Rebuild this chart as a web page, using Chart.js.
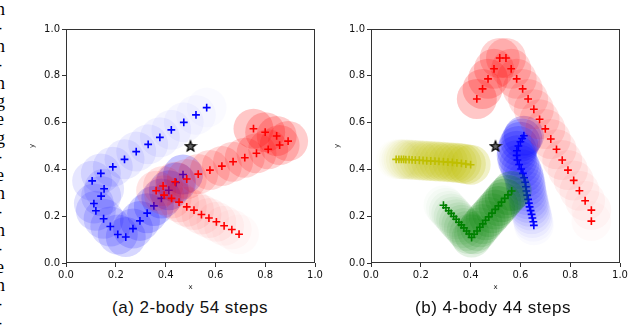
<!doctype html>
<html lang="en">
<head>
  <meta charset="utf-8">
  <title>2-body / 4-body steps</title>
  <script src="https://cdn.jsdelivr.net/npm/chart.js@4.4.1/dist/chart.umd.min.js"></script>
  <style>
    html, body { margin: 0; padding: 0; background: #fff; }
    #page { position: relative; width: 640px; height: 335px; overflow: hidden; }
    canvas { position: absolute; top: 0; }
    #c1 { left: 0; }
    #c2 { left: 305px; }
    .caption { position: absolute; top: 298px; width: 240px; text-align: center;
      font-family: "Liberation Sans", Arial, sans-serif; font-size: 17px; letter-spacing: 0.5px;
      line-height: 20px; color: #111; white-space: nowrap; }
    #strip { position: absolute; left: 0; top: 0; width: 6px; height: 335px; overflow: hidden; }
    #strip span { position: absolute; left: -4px; font-family: "Liberation Serif", serif;
      font-size: 18px; line-height: 18px; color: #000; }
  </style>
</head>
<body>
<div id="page">
  <div id="strip"></div>
  <canvas id="c1" width="335" height="295"></canvas>
  <canvas id="c2" width="335" height="295"></canvas>
  <div class="caption" style="left:70px">(a) 2-body 54 steps</div>
  <div class="caption" style="left:373px">(b) 4-body 44 steps</div>
</div>
<script>
// tick values / labels shared by both panels
var tickValues = [0, 0.2, 0.4, 0.6, 0.8, 1.0];
var tickLabels = ['0.0', '0.2', '0.4', '0.6', '0.8', '1.0'];
var target = [[0.5, 0.5]];

// (a) 2-body, positions in time order
var aBlue = [[0.565,0.664],[0.522,0.633],[0.473,0.601],[0.423,0.569],[0.377,0.537],[0.330,0.507],
  [0.282,0.476],[0.235,0.443],[0.188,0.411],[0.140,0.383],[0.105,0.351],[0.153,0.317],[0.141,0.286],
  [0.112,0.254],[0.120,0.223],[0.151,0.189],[0.178,0.156],[0.208,0.122],[0.240,0.111],[0.269,0.147],
  [0.297,0.180],[0.326,0.213],[0.353,0.244],[0.383,0.276],[0.413,0.311],[0.442,0.344],[0.470,0.378]];
var aRed = [[0.695,0.123],[0.666,0.143],[0.635,0.159],[0.604,0.176],[0.574,0.192],[0.544,0.207],
  [0.514,0.226],[0.485,0.240],[0.454,0.260],[0.424,0.276],[0.394,0.290],[0.362,0.309],[0.390,0.329],
  [0.438,0.347],[0.485,0.359],[0.531,0.380],[0.578,0.397],[0.626,0.414],[0.671,0.433],[0.718,0.450],
  [0.765,0.469],[0.812,0.486],[0.858,0.504],[0.892,0.521],[0.846,0.543],[0.800,0.559],[0.753,0.574]];

// (b) 4-body
var bBlue = [[0.654,0.161],[0.652,0.176],[0.648,0.192],[0.645,0.208],[0.641,0.224],[0.637,0.240],
  [0.634,0.256],[0.631,0.272],[0.627,0.290],[0.624,0.308],[0.622,0.326],[0.619,0.345],[0.615,0.364],
  [0.610,0.383],[0.603,0.402],[0.595,0.421],[0.588,0.440],[0.585,0.460],[0.586,0.480],[0.592,0.500],
  [0.600,0.518],[0.607,0.532],[0.614,0.544]];
var bRed = [[0.885,0.179],[0.885,0.226],[0.860,0.266],[0.837,0.309],[0.814,0.353],[0.791,0.397],
  [0.768,0.440],[0.745,0.486],[0.722,0.530],[0.700,0.573],[0.677,0.614],[0.654,0.657],[0.631,0.701],
  [0.609,0.744],[0.585,0.787],[0.563,0.830],[0.542,0.876],[0.517,0.876],[0.494,0.830],[0.470,0.787],
  [0.448,0.744],[0.425,0.701]];
var bGreen = [[0.291,0.247],[0.301,0.236],[0.312,0.223],[0.322,0.212],[0.332,0.199],[0.342,0.187],
  [0.353,0.174],[0.363,0.163],[0.373,0.150],[0.384,0.137],[0.394,0.124],[0.404,0.109],[0.414,0.123],
  [0.426,0.137],[0.437,0.153],[0.449,0.167],[0.460,0.183],[0.473,0.197],[0.486,0.213],[0.499,0.229],
  [0.512,0.244],[0.524,0.260],[0.537,0.276],[0.550,0.291],[0.565,0.308]];
var bYellow = [[0.101,0.443],[0.112,0.443],[0.122,0.443],[0.131,0.443],[0.140,0.442],[0.153,0.442],
  [0.165,0.441],[0.178,0.440],[0.194,0.439],[0.209,0.438],[0.224,0.437],[0.240,0.436],[0.257,0.435],
  [0.273,0.434],[0.291,0.433],[0.309,0.431],[0.327,0.430],[0.345,0.428],[0.363,0.426],[0.381,0.423],
  [0.400,0.420]];

var stripChars = ['n','-','n','-','n','g','e','g','-','e','n','-','n','-','e','n','-','-'];

// clipped column of text at the left edge
var strip = document.getElementById('strip');
stripChars.forEach(function(ch, i) {
  var s = document.createElement('span');
  s.textContent = ch;
  s.style.top = (i * 18.4) + 'px';
  strip.appendChild(s);
});

function pts(arr) { return arr.map(function(p) { return {x: p[0], y: p[1]}; }); }

// five pointed star marker
var star = document.createElement('canvas');
star.width = 14; star.height = 14;
(function() {
  var g = star.getContext('2d');
  g.beginPath();
  for (var i = 0; i < 10; i++) {
    var r = i % 2 === 0 ? 5.5 : 2.3;
    var a = -Math.PI / 2 + i * Math.PI / 5;
    var px = 7 + r * Math.cos(a), py = 7.5 + r * Math.sin(a);
    if (i === 0) g.moveTo(px, py); else g.lineTo(px, py);
  }
  g.closePath();
  g.fillStyle = '#666';
  g.fill();
  g.lineWidth = 1.2;
  g.strokeStyle = '#000';
  g.stroke();
})();

function discs(arr, rgb, order) {
  return {
    data: pts(arr), order: order, pointRadius: 20, pointHoverRadius: 20,
    pointBorderWidth: 0, borderWidth: 0,
    backgroundColor: function(ctx) {
      var n = ctx.dataset.data.length;
      var a = 0.02 + 0.2 * ctx.dataIndex / (n - 1);
      return 'rgba(' + rgb + ',' + a.toFixed(3) + ')';
    }
  };
}
function crosses(arr, color, order) {
  return {
    data: pts(arr), order: order, pointStyle: 'cross', pointRadius: 3.9, pointHoverRadius: 3.9,
    borderColor: color, pointBorderWidth: 1.6, borderWidth: 1.6, backgroundColor: color
  };
}

var frame = {
  id: 'frame',
  afterDatasetsDraw: function(chart) {
    var a = chart.chartArea, c = chart.ctx;
    c.save();
    c.strokeStyle = '#333';
    c.lineWidth = 1;
    c.strokeRect(Math.round(a.left) + 0.5, Math.round(a.top) + 0.5,
      Math.round(a.right - a.left) - 1, Math.round(a.bottom - a.top) - 1);
    c.restore();
  }
};

function axis(title, isX) {
  return {
    type: 'linear', min: 0, max: 1,
    afterBuildTicks: function(s) { s.ticks = tickValues.map(function(v) { return {value: v}; }); },
    afterFit: function(s) { if (isX) s.height = 32; else s.width = 42; },
    ticks: {
      autoSkip: false, maxRotation: 0, padding: 2, color: '#111',
      font: {family: 'DejaVu Sans', size: 10},
      callback: function(v, i) { return tickLabels[i]; }
    },
    grid: {drawOnChartArea: false, drawTicks: true, tickLength: 4, color: '#333'},
    border: {display: false},
    title: {display: true, text: title, color: '#111', font: {family: 'DejaVu Sans', size: 7},
      padding: {top: 4, bottom: 4}}
  };
}

function makeChart(id, datasets) {
  return new Chart(document.getElementById(id), {
    type: 'scatter',
    data: {datasets: datasets},
    options: {
      responsive: false, animation: false, devicePixelRatio: 1,
      layout: {padding: {left: 24, top: 29, right: 9, bottom: 0}},
      plugins: {legend: {display: false}, tooltip: {enabled: false}},
      scales: {x: axis('x', true), y: axis('y', false)}
    },
    plugins: [frame]
  });
}

var starSet = {data: pts(target), order: 0, pointStyle: star, pointRadius: 7, borderWidth: 0};

makeChart('c1', [
  discs(aBlue, '0,0,255', 9), crosses(aBlue, '#0000ff', 8),
  discs(aRed, '255,0,0', 7), crosses(aRed, '#ff0000', 6),
  starSet
]);

makeChart('c2', [
  discs(bBlue, '0,0,255', 9), crosses(bBlue, '#0000ff', 8),
  discs(bRed, '255,0,0', 7), crosses(bRed, '#ff0000', 6),
  discs(bGreen, '0,128,0', 5), crosses(bGreen, '#008000', 4),
  discs(bYellow, '191,191,0', 3), crosses(bYellow, '#bfbf00', 2),
  starSet
]);
</script>
</body>
</html>
